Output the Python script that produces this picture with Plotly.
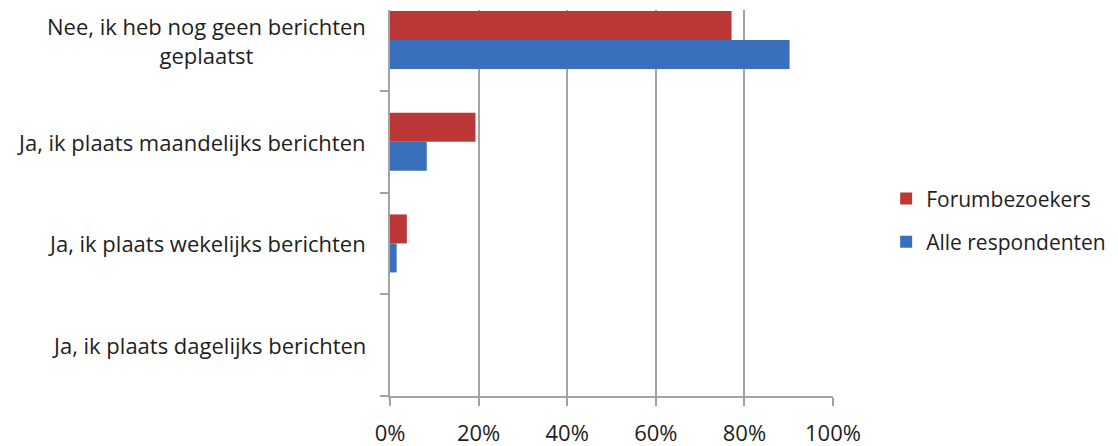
import plotly.graph_objects as go

# Survey answers, bottom to top on the y axis
categories = [
    "Ja, ik plaats dagelijks berichten",
    "Ja, ik plaats wekelijks berichten",
    "Ja, ik plaats maandelijks berichten",
    "Nee, ik heb nog geen berichten<br>geplaatst",
]
forumbezoekers = [0.0, 0.038, 0.193, 0.771]
alle_respondenten = [0.0, 0.015, 0.083, 0.902]
x_ticks = [0, 0.2, 0.4, 0.6, 0.8, 1.0]
x_tick_labels = ["0%", "20%", "40%", "60%", "80%", "100%"]

FONT = "'Open Sans', sans-serif"
TEXT = "#1e1e1e"
GRID = "#a3a3a3"

fig = go.Figure()
fig.add_trace(go.Bar(
    y=categories, x=alle_respondenten, orientation="h",
    name="Alle respondenten", legendrank=2, legendgroup="alle",
    marker=dict(color="#3a70bb", line=dict(width=0)),
))
fig.add_trace(go.Bar(
    y=categories, x=forumbezoekers, orientation="h",
    name="Forumbezoekers", legendrank=1, legendgroup="forum",
    marker=dict(color="#bc3836", line=dict(width=0)),
))

# Category labels, right-aligned to the axis, lines centred on each other
for cat in categories:
    fig.add_annotation(
        x=0, xref="paper", xanchor="right", xshift=-22,
        y=cat, yref="y", yanchor="middle",
        text=cat, showarrow=False, align="center",
        font=dict(family=FONT, size=22, color=TEXT),
    )

fig.update_layout(
    width=1118, height=446,
    margin=dict(l=390, r=285, t=10, b=50, autoexpand=False),
    paper_bgcolor="white", plot_bgcolor="white",
    barmode="group", bargap=0.43, bargroupgap=0,
    showlegend=True,
    legend=dict(
        x=1.12, xanchor="left", y=0.455, yanchor="middle",
        traceorder="grouped", tracegroupgap=13,
        font=dict(family=FONT, size=21, color=TEXT),
        bgcolor="rgba(0,0,0,0)",
    ),
    xaxis=dict(
        range=[0, 1], tickvals=x_ticks, ticktext=x_tick_labels,
        showgrid=True, gridcolor=GRID, gridwidth=1.5,
        showline=True, linecolor=GRID, linewidth=1.5,
        ticks="outside", ticklen=8, tickcolor=GRID, tickwidth=1.5,
        ticklabelstandoff=9, automargin=False,
        zeroline=False,
        tickfont=dict(family=FONT, size=22, color=TEXT),
    ),
    yaxis=dict(
        type="category", categoryorder="array", categoryarray=categories,
        range=[-0.5, 3.295], automargin=False,
        showticklabels=False,
        showline=True, linecolor=GRID, linewidth=1.5,
        ticks="outside", ticklen=8, tickcolor=GRID, tickwidth=1.5,
        tickson="boundaries", showgrid=False, zeroline=False,
    ),
)

fig.write_html("out.html")
